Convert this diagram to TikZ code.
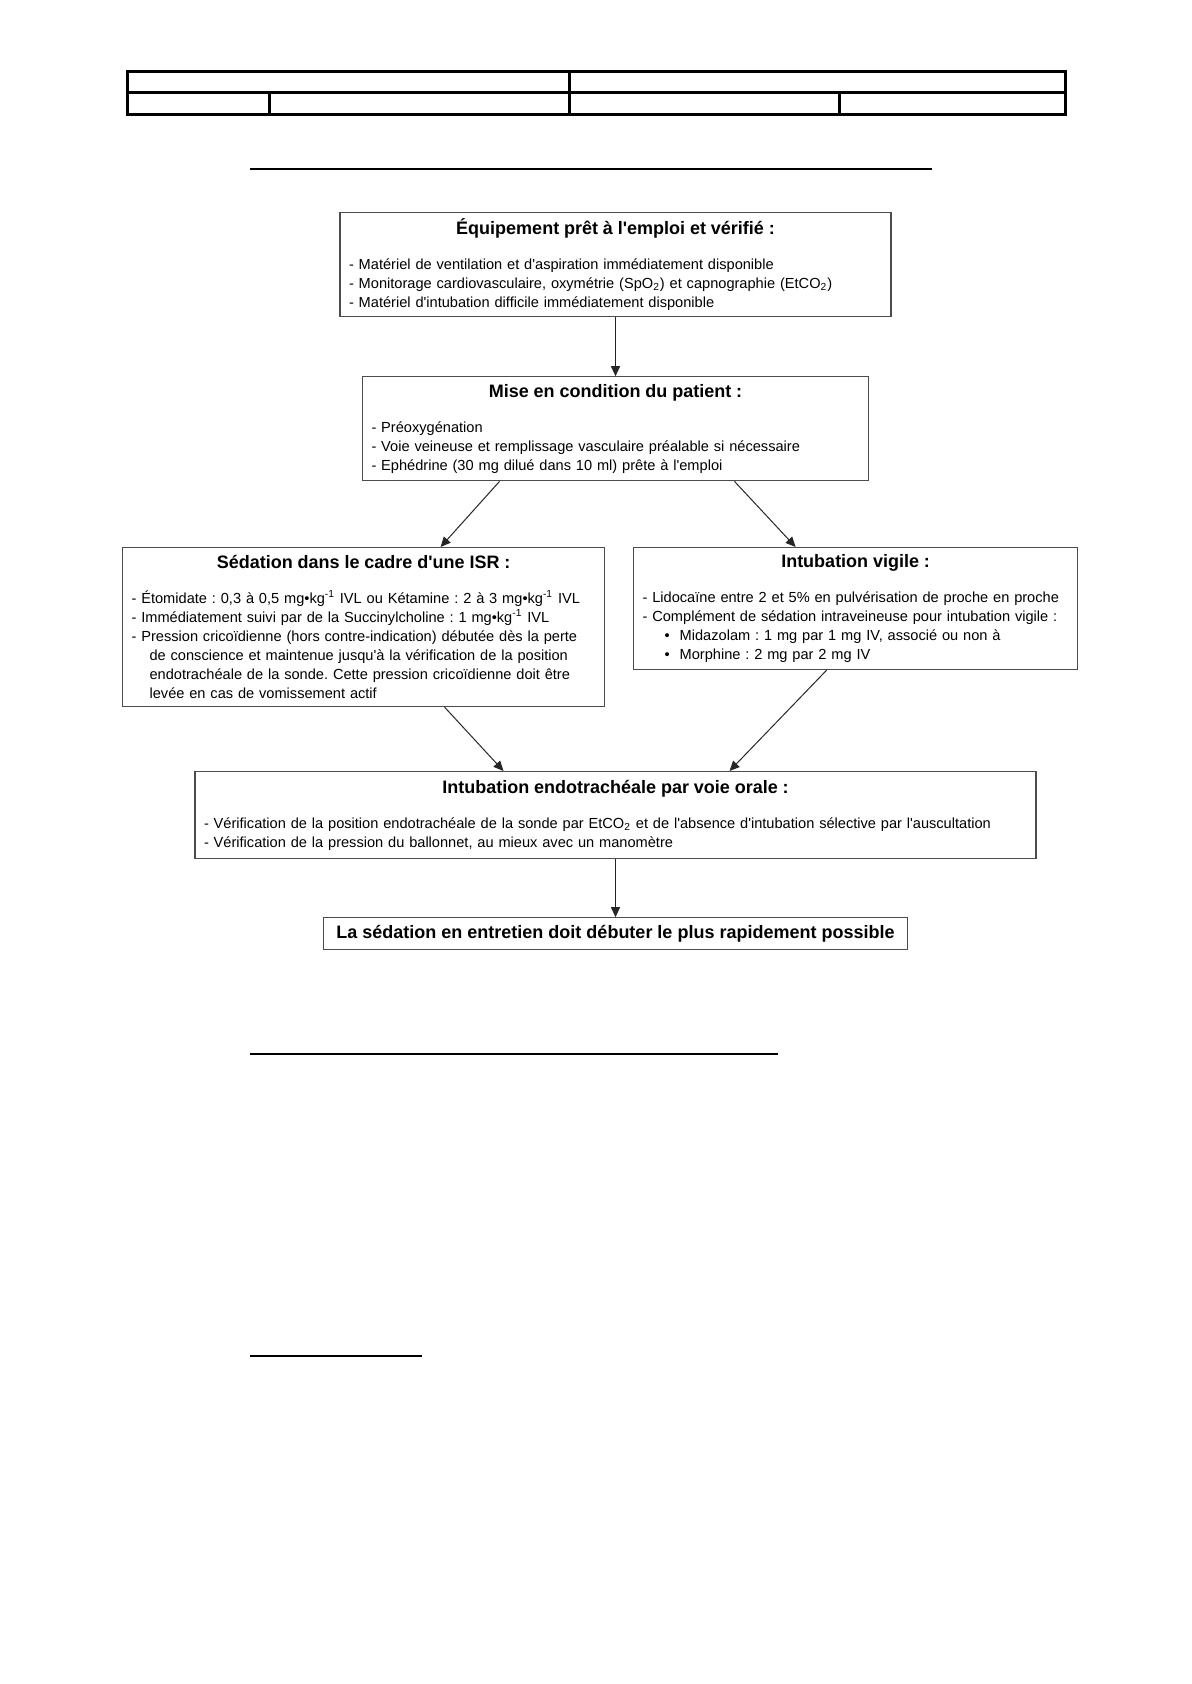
\documentclass[tikz,border=0pt]{standalone}
\usepackage{fontspec}
\setmainfont{Liberation Sans}[Ligatures=TeXOff]
\usetikzlibrary{arrows.meta,positioning,calc}
\frenchspacing
\newcommand{\bodysize}{\fontsize{7.3}{9.5}\selectfont}
\newcommand{\boxhead}[1]{{\centering\bfseries\fontsize{9}{11}\selectfont #1\par}\vspace{8pt}}
\newcommand{\mgkg}{mg•kg\textsuperscript{-1}}
\newcommand{\contd}{\hspace*{9pt}}
\newcommand{\puce}{\hspace*{11pt}•\hspace{5pt}}
\tikzset{
  stepbox/.style={draw=black!70,line width=0.6pt,fill=white,align=left,
    inner xsep=4.5pt,inner ysep=3pt,font=\bodysize},
  endbox/.style={draw=black!70,line width=0.6pt,align=center,
    minimum width=292pt,minimum height=16pt,inner sep=0pt,
    font=\fontsize{9}{11}\selectfont\bfseries},
  flowarrow/.style={-{Triangle[length=5pt,width=4.5pt]},draw=black!85,line width=0.5pt},
  headrule/.style={line width=1.5pt},
  titlerule/.style={line width=1.3pt}
}

\begin{document}
\begin{tikzpicture}[x=0.5pt,y=-0.5pt]
  \useasboundingbox (0,0) rectangle (1191,1684);
  % cartouche
  \draw[headrule] (127,72) rectangle (1065,115);
  \draw[headrule] (127,93) -- (1065,93);
  \draw[headrule] (569,72) -- (569,115);
  \draw[headrule] (269,93) -- (269,115);
  \draw[headrule] (839,93) -- (839,115);
  % traits de titre
  \draw[titlerule] (250,169) -- (932,169);
  \draw[titlerule] (250,1054) -- (778,1054);
  \draw[titlerule] (250,1356) -- (422,1356);

  \node[stepbox,text width=266.5pt,minimum height=52pt,anchor=north] (equip) at (615.5,212) {%
    \boxhead{Équipement prêt à l'emploi et vérifié :}
    - Matériel de ventilation et d'aspiration immédiatement disponible\\
    - Monitorage cardiovasculaire, oxymétrie (SpO\textsubscript{2}) et capnographie (EtCO\textsubscript{2})\\
    - Matériel d'intubation difficile immédiatement disponible};
  \node[stepbox,text width=244pt,minimum height=52pt,below=29.5pt of equip] (mise) {%
    \boxhead{Mise en condition du patient :}
    - Préoxygénation\\
    - Voie veineuse et remplissage vasculaire préalable si nécessaire\\
    - Ephédrine (30 mg dilué dans 10 ml) prête à l'emploi};
  \node[stepbox,text width=232pt,minimum height=79.5pt,anchor=north west] (sedation) at (122,547) {%
    \boxhead{Sédation dans le cadre d'une ISR :}
    - Étomidate : 0,3 à 0,5 \mgkg{} IVL ou Kétamine : 2 à 3 \mgkg{} IVL\\
    - Immédiatement suivi par de la Succinylcholine : 1 \mgkg{} IVL\\
    - Pression cricoïdienne (hors contre-indication) débutée dès la perte\\
    \contd de conscience et maintenue jusqu'à la vérification de la position\\
    \contd endotrachéale de la sonde. Cette pression cricoïdienne doit être\\
    \contd levée en cas de vomissement actif};
  \node[stepbox,text width=213pt,minimum height=61pt,anchor=north west] (vigile) at (633,547) {%
    \boxhead{Intubation vigile :}
    - Lidocaïne entre 2 et 5\% en pulvérisation de proche en proche\\
    - Complément de sédation intraveineuse pour intubation vigile :\\
    \puce Midazolam : 1 mg par 1 mg IV, associé ou non à\\
    \puce Morphine : 2 mg par 2 mg IV};
  \node[stepbox,text width=411.5pt,minimum height=43.5pt,anchor=north] (endo) at (615.5,771) {%
    \boxhead{Intubation endotrachéale par voie orale :}
    - Vérification de la position endotrachéale de la sonde par EtCO\textsubscript{2} et de l'absence d'intubation sélective par l'auscultation\\
    - Vérification de la pression du ballonnet, au mieux avec un manomètre};
  \node[endbox,below=29pt of endo] (entretien) {La sédation en entretien doit débuter le plus rapidement possible};

  \draw[flowarrow] (equip) -- (mise);
  \draw[flowarrow] ([xshift=-58pt]mise.south) -- ([xshift=38.5pt]sedation.north);
  \draw[flowarrow] ([xshift=59.5pt]mise.south) -- ([xshift=-30pt]vigile.north);
  \draw[flowarrow] ([xshift=40.5pt]sedation.south) -- ([xshift=-56pt]endo.north);
  \draw[flowarrow] ([xshift=-14.5pt]vigile.south) -- ([xshift=57pt]endo.north);
  \draw[flowarrow] (endo) -- (entretien);
\end{tikzpicture}
\end{document}
